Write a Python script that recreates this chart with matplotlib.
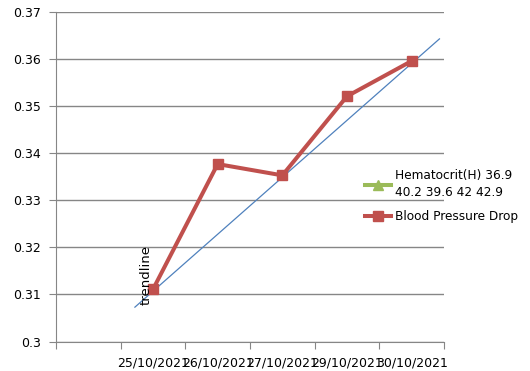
import matplotlib.pyplot as plt
from matplotlib.lines import Line2D
from matplotlib.ticker import FixedLocator

# категории по оси X (первая ячейка пустая)
dates = ['', '25/10/2021', '26/10/2021', '27/10/2021', '29/10/2021', '30/10/2021']
bp_drop = [None, 0.3111, 0.3377, 0.3353, 0.3521, 0.3596]
hematocrit_name = 'Hematocrit(H) 36.9\n40.2 39.6 42 42.9'
# концы линии тренда (в единицах категорий)
trend_x = [0.72, 5.43]
trend_y = [0.3073, 0.3643]
y_ticks = [0.3, 0.31, 0.32, 0.33, 0.34, 0.35, 0.36, 0.37]

red = '#C0504D'
blue = '#4F81BD'
green = '#9BBB59'
grid_col = '#868686'

plt.rcParams['font.family'] = ['DejaVu Sans']
fig = plt.figure(figsize=(5.3, 3.71), dpi=100)
ax = fig.add_axes([0.1057, 0.0795, 0.732, 0.888])

xs = [i for i, v in enumerate(bp_drop) if v is not None]
ys = [v for v in bp_drop if v is not None]

ax.plot(trend_x, trend_y, color=blue, linewidth=0.9, zorder=2)
ax.plot(xs, ys, color=red, linewidth=2.9, marker='s', markersize=7.5, zorder=3)

ax.text(1.0, 0.3078, 'trendline', rotation=90, fontsize=9.5,
        ha='right', va='bottom', zorder=4)

ax.set_xlim(-0.5, 5.5)
ax.set_ylim(0.3, 0.37)
ax.set_yticks(y_ticks)
ax.set_yticklabels(['0.3' if t == 0.3 else f'{t:.2f}' for t in y_ticks])
ax.yaxis.grid(True, color=grid_col, linewidth=1)
ax.set_axisbelow(True)

# деления между категориями, подписи по центру
ax.xaxis.set_major_locator(FixedLocator([i - 0.5 for i in range(len(dates) + 1)]))
ax.xaxis.set_major_formatter(plt.NullFormatter())
ax.xaxis.set_minor_locator(FixedLocator(range(len(dates))))
ax.set_xticklabels(dates, minor=True)
ax.tick_params(axis='x', which='major', length=5, color=grid_col)
ax.tick_params(axis='x', which='minor', length=0, pad=11, labelsize=9)
ax.tick_params(axis='y', length=5, color=grid_col, pad=6, labelsize=9)

for s in ['top', 'right']:
    ax.spines[s].set_visible(False)
for s in ['left', 'bottom']:
    ax.spines[s].set_color(grid_col)

handles = [
    Line2D([], [], color=green, linewidth=2.9, marker='^', markersize=7),
    Line2D([], [], color=red, linewidth=2.9, marker='s', markersize=7),
]
leg = fig.legend(handles, [hematocrit_name, 'Blood Pressure Drop'],
                 loc='upper left', bbox_to_anchor=(0.668, 0.575), frameon=False,
                 fontsize=8.7, handlelength=2.2, handletextpad=0.3, labelspacing=0.9)
for t in leg.get_texts():
    t.set_linespacing(1.45)

fig.savefig('out.png', dpi=100)
